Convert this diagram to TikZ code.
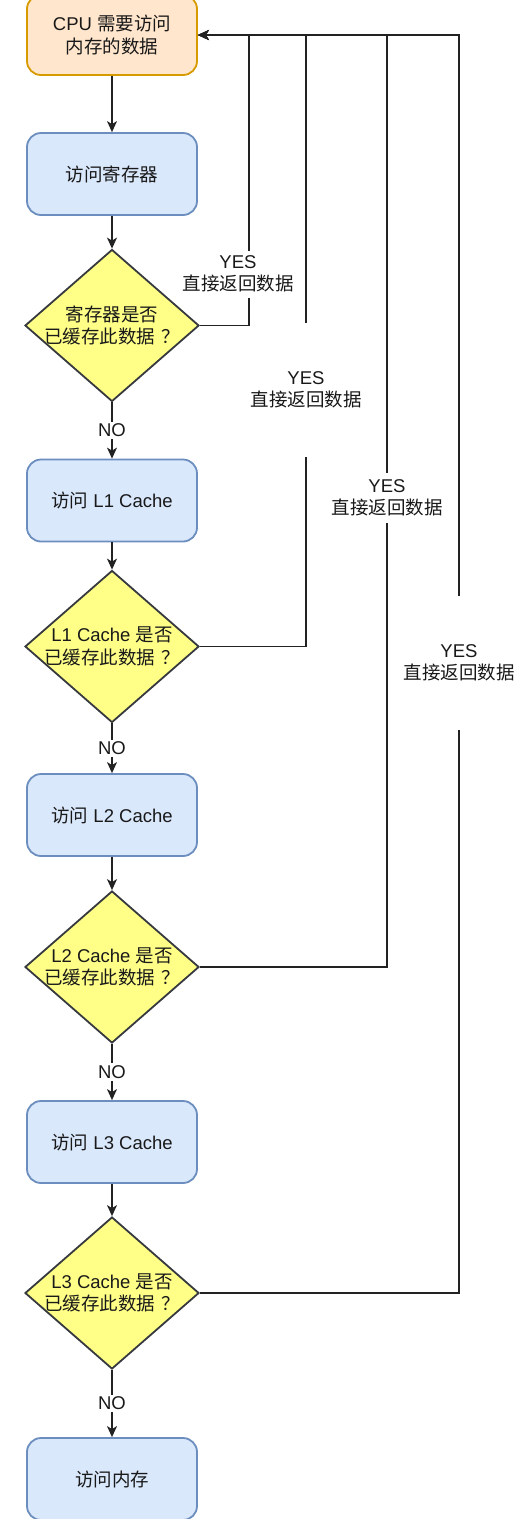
\documentclass[tikz,border=0pt]{standalone}
\usepackage{fontspec}
\setmainfont{Liberation Sans}
\newfontfamily\zhfont{Noto Sans CJK SC}
\usetikzlibrary{shapes.geometric,arrows.meta}
\newcommand{\Z}[1]{{\zhfont #1}}
\definecolor{orf}{HTML}{FFE6CC}
\definecolor{ord}{HTML}{D79B00}
\definecolor{blf}{HTML}{DAE8FC}
\definecolor{bld}{HTML}{6C8EBF}
\definecolor{yef}{HTML}{FFFF88}
\definecolor{yed}{HTML}{36393D}
\definecolor{ln}{HTML}{222222}
\begin{document}
\begin{tikzpicture}[x=1pt,y=-1pt,
  font=\fontsize{18.5}{22.5}\selectfont,
  box/.style={draw=bld, fill=blf, line width=1.8pt, rounded corners=14pt,
    minimum width=170pt, minimum height=82pt, align=center, text=black!90},
  startbox/.style={box, draw=ord, fill=orf, minimum height=80pt},
  dia/.style={diamond, draw=yed, fill=yef, line width=1.8pt,
    minimum width=174pt, minimum height=152pt, inner sep=0pt},
  dtxt/.style={align=center, inner sep=0pt, text=black!90},
  ar/.style={draw=ln, line width=1.3pt, -{Stealth[length=11pt,width=10pt,inset=3pt]}},
  nolbl/.style={fill=white, inner sep=2pt, text=black!90},
  yes/.style={fill=white, inner xsep=0pt, inner ysep=0pt, align=center, text=black!90}]
\useasboundingbox (0,0) rectangle (526,1519);

% main column
\node[startbox] (cpu) at (112,35) {CPU \Z{需要访问}\\\Z{内存的数据}};
\node[box] (reg) at (112,174) {\Z{访问寄存器}};
\node[dia] (d1) at (112,325.5) {};
\node[dtxt] (t1) at (d1) {\Z{寄存器是否}\\\Z{已缓存此数据\hspace{0.3em}？}};
\node[box] (l1) at (112,500.5) {\Z{访问} L1 Cache};
\node[dia] (d2) at (112,646.5) {};
\node[dtxt] (t2) at (d2) {L1 Cache \Z{是否}\\\Z{已缓存此数据\hspace{0.3em}？}};
\node[box] (l2) at (112,815) {\Z{访问} L2 Cache};
\node[dia] (d3) at (112,967) {};
\node[dtxt] (t3) at (d3) {L2 Cache \Z{是否}\\\Z{已缓存此数据\hspace{0.3em}？}};
\node[box] (l3) at (112,1142) {\Z{访问} L3 Cache};
\node[dia] (d4) at (112,1293) {};
\node[dtxt] (t4) at (d4) {L3 Cache \Z{是否}\\\Z{已缓存此数据\hspace{0.3em}？}};
\node[box] (mem) at (112,1479) {\Z{访问内存}};

% downward flow
\draw[ar] (cpu) -- (reg);
\draw[ar] (reg) -- (d1);
\draw[ar] (d1) -- node[nolbl]{NO} (l1);
\draw[ar] (l1) -- (d2);
\draw[ar] (d2) -- node[nolbl]{NO} (l2);
\draw[ar] (l2) -- (d3);
\draw[ar] (d3) -- node[nolbl]{NO} (l3);
\draw[ar] (l3) -- (d4);
\draw[ar] (d4) -- node[nolbl]{NO} (mem);

% return paths
\coordinate (j1) at (249,0 |- cpu.east);
\coordinate (j2) at (306,0 |- cpu.east);
\coordinate (j3) at (387,0 |- cpu.east);
\coordinate (j4) at (459,0 |- cpu.east);
\draw[ar] (d4.east) -| (j4) -- (cpu.east);
\draw[ar] (d3.east) -| (j3) -- (cpu.east);
\draw[ar] (d2.east) -| (j2) -- (cpu.east);
\draw[ar] (d1.east) -| (j1) -- (cpu.east);

\node[yes, minimum height=47pt] (y1) at (238,274) {YES\\\Z{直接返回数据}};
\node[yes, minimum height=134pt] (y2) at (306,390) {YES\\\Z{直接返回数据}};
\node[yes, minimum height=50pt] (y3) at (387,498) {YES\\\Z{直接返回数据}};
\node[yes, minimum height=134pt] (y4) at (459,663) {YES\\\Z{直接返回数据}};
\end{tikzpicture}
\end{document}
